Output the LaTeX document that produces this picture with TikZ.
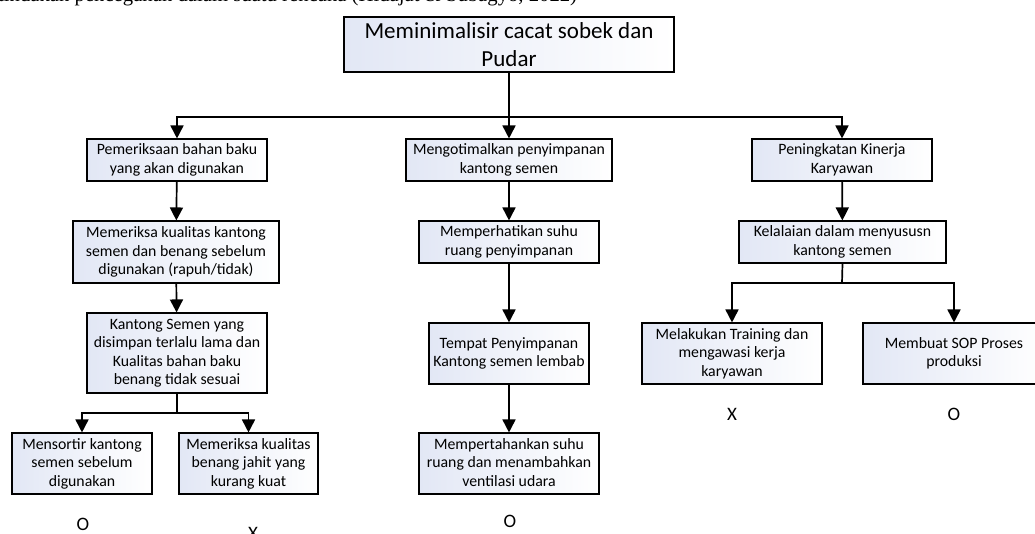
\documentclass[tikz,border=0pt]{standalone}
\usepackage{fontspec}
\setmainfont{Carlito}
\newfontfamily\serifpart{Liberation Serif}
\usetikzlibrary{arrows.meta}
\definecolor{boxblue}{RGB}{226,231,245}
\tikzset{
  box/.style={draw=black, line width=1.1pt, left color=boxblue, right color=white,
    align=center, inner sep=0pt, font=\fontsize{15.8}{18.5}\selectfont},
  arr/.style={line width=1.7pt, -{Triangle[width=13pt,length=13pt]}},
  ln/.style={line width=1.7pt},
  verdict/.style={font=\fontsize{19}{20}\selectfont, inner sep=0pt}
}
\newcommand{\bx}[6]{% name, x1, x2, y1, y2, text
  \node[box, minimum width=#3pt-#2pt, minimum height=#5pt-#4pt] (#1) at ({(#2+#3)/2},{(#4+#5)/2}) {\rule{0pt}{0pt}#6\rule[-2pt]{0pt}{0pt}};}
\begin{document}
\begin{tikzpicture}[x=1pt,y=-1pt]
\useasboundingbox (0,0) rectangle (1035,533);
\clip (0,0) rectangle (1035,533);
\node[anchor=base west, inner sep=0pt, font=\serifpart\fontsize{20.7}{22}\selectfont] (cap) at (-2,1.5) {tindakan pencegahan dalam suatu rencana (Hidajat \& Subagyo, 2022)};
\node[box, font=\fontsize{23}{28}\selectfont, minimum width=330pt, minimum height=55pt] (top) at (509,44.5) {Meminimalisir cacat sobek dan\\Pudar};
\bx{L1}{87}{267}{139}{181}{Pemeriksaan bahan baku\\yang akan digunakan}
\bx{L2}{73}{279}{221}{283}{Memeriksa kualitas kantong\\semen dan benang sebelum\\digunakan (rapuh/tidak)}
\bx{L3}{87}{267}{313}{393}{Kantong Semen yang\\disimpan terlalu lama dan\\Kualitas bahan baku\\benang tidak sesuai}
\bx{L4}{12}{152}{433}{494}{Mensortir kantong\\semen sebelum\\digunakan}
\bx{L5}{179}{318}{433}{494}{Memeriksa kualitas\\benang jahit yang\\kurang kuat}
\bx{C1}{406}{612}{139}{181}{Mengotimalkan penyimpanan\\kantong semen}
\bx{C2}{419}{599}{221}{263}{Memperhatikan suhu\\ruang penyimpanan}
\bx{C3}{429}{589}{323}{384}{Tempat Penyimpanan\\Kantong semen lembab}
\bx{C4}{419}{599}{433}{494}{Mempertahankan suhu\\ruang dan menambahkan\\ventilasi udara}
\bx{R1}{752}{932}{139}{181}{Peningkatan Kinerja\\Karyawan}
\bx{R2}{739}{946}{221}{263}{Kelalaian dalam menyususn\\kantong semen}
\bx{R3}{642}{822}{323}{384}{Melakukan Training dan\\mengawasi kerja\\karyawan}
\bx{R4}{863}{1045}{323}{384}{Membuat SOP Proses\\produksi}
\node[verdict] (m1) at (83,524) {O};
\node[verdict] (m2) at (253,533) {X};
\node[verdict] (m3) at (510,521) {O};
\node[verdict] (m4) at (732,414) {X};
\node[verdict] (m5) at (954,414) {O};
\coordinate (j) at (509,117);
\coordinate (jl) at (177,413);
\coordinate (jr) at (842,283);
\draw[ln] (top.south) -- (j);
\draw[arr] (j) -| (L1.north);
\draw[arr] (j) -| (R1.north);
\draw[arr] (j) -- (C1.north);
\draw[arr] (L1) -- (L2);
\draw[arr] (L2) -- (L3);
\draw[ln] (L3.south) -- (jl);
\draw[arr] (jl) -| (L4.north);
\draw[arr] (jl) -| (L5.north);
\draw[arr] (C1) -- (C2);
\draw[arr] (C2) -- (C3);
\draw[arr] (C3) -- (C4);
\draw[arr] (R1) -- (R2);
\draw[ln] (R2.south) -- (jr);
\draw[arr] (jr) -| (R3.north);
\draw[arr] (jr) -| (R4.north);
\end{tikzpicture}
\end{document}
